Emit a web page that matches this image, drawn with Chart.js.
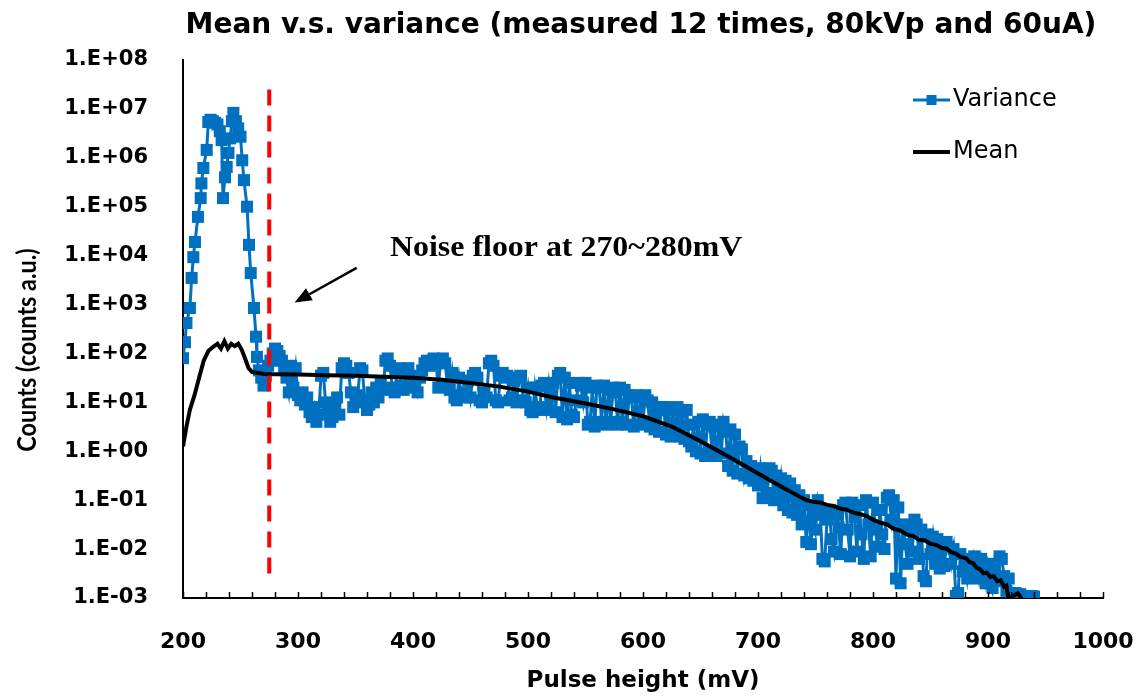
<!DOCTYPE html>
<html><head><meta charset="utf-8">
<script src="https://cdn.jsdelivr.net/npm/chart.js@4/dist/chart.umd.min.js"></script>
<style>html,body{margin:0;padding:0;background:#fff}#wrap{width:1145px;height:698px}</style>
</head><body><div id="wrap"><canvas id="c" width="1145" height="698"></canvas></div>
<script>
// ---------- texts ----------
const titleText = 'Mean v.s. variance (measured 12 times, 80kVp and 60uA)';
const xTitle = 'Pulse height (mV)';
const yTitle = 'Counts (counts a.u.)';
const noteText = 'Noise floor at 270~280mV';
const legendLabels = ['Variance', 'Mean'];

// ---------- axes ----------
const xMin = 200, xMax = 1000, xStep = 100, xMinorStep = 20;
const xTickLabels = ['200','300','400','500','600','700','800','900','1000'];
const yTickValues = [1e-3, 1e-2, 1e-1, 1e0, 1e1, 1e2, 1e3, 1e4, 1e5, 1e6, 1e7, 1e8];
const yTickLabels = ['1.E-03','1.E-02','1.E-01','1.E+00','1.E+01','1.E+02','1.E+03','1.E+04','1.E+05','1.E+06','1.E+07','1.E+08'];

// ---------- series: Variance ----------
const varianceX = [
200,201.7,203,206,207.5,209,210.4,213,215.4,216,217.7,220.6,222,224,226,228,230,232,233.6,234.8,236.5,238,239.5,241,242.5,243.8,246,248,250,251.5,253,255.7,257.4,258.9,261.7,263.5,264.3,266,268,270,272,274,
276,278,280,282,284,286,288,290,292,294,296,298,300,
302,304,306,308,310,312,314,316,318,320,322,324,326,328,330,332,334,336,338,340,342,344,346,348,350,
352,354,356,358,360,362,364,366,368,370,372,374,376,378,380,382,384,386,388,390,392,394,396,398,400,
402,404,406,408,410,412,414,416,418,420,422,424,426,428,430,432,434,436,438,440,442,444,446,448,450,
452,454,456,458,460,462,464,466,468,470,472,474,476,478,480,482,484,486,488,490,492,494,496,498,500,
502,504,506,508,510,512,514,516,518,520,522,524,526,528,530,532,534,536,538,540,542,544,546,548,550,
552,554,556,558,560,562,564,566,568,570,572,574,576,578,580,582,584,586,588,590,592,594,596,598,600,
602,604,606,608,610,612,614,616,618,620,622,624,626,628,630,632,634,636,638,640,642,644,646,648,650,
652,654,656,658,660,662,664,666,668,670,672,674,676,678,680,682,684,686,688,690,692,694,696,698,700,
702,704,706,708,710,712,714,716,718,720,722,724,726,728,730,732,734,736,738,740,742,744,746,748,750,
752,754,756,758,760,762,764,766,768,770,772,774,776,778,780,782,784,786,788,790,792,794,796,798,800,
802,804,806,808,810,812,814,816,818,820,822,824,826,828,830,832,834,836,838,840,842,844,846,848,850,
852,854,856,858,860,862,864,866,868,870,872,874,876,878,880,882,884,886,888,890,892,894,896,898,900,
902,904,906,908,910,912,914,916,918,920,922,924,926,928,930,932,934,936,938,940];
const varianceY = [
80,170,420,850,3500,9300,19000,62000,150000,300000,620000,1450000,5400000,6000000,5600000,5200000,4800000,3500000,2300000,150000,400000,650000,1260000,2500000,5600000,8300000,5600000,4000000,2700000,890000,350000,100000,16600,4400,850,220,85,45,32,22,35,56,
71,100,126,112,89,71,50,32,16,56,20,50,14,
11,16,9,12.6,6.3,5,8,4,5.6,35,40,10,7,4,5,9,12.6,5.6,50,63,56,40,16,8,10,
14,50,45,11,7,9,16,10,20,12.6,25,18,71,79,56,20,16,40,50,22,18,45,50,35,20,
25,16,32,45,63,71,56,71,79,63,20,71,79,63,22,18,40,12.6,11,32,14,16,12.6,28,12.6,
35,40,32,11,10,16,12.6,63,71,56,11,10,35,40,32,35,11,12.6,28,10,32,35,11,10,20,
7,6.3,20,8,7,22,25,8,22,7,25,6.3,35,40,5,32,4.5,25,5.6,5,11,25,22,10,25,
3.5,4,20,3.2,22,20,4,22,3.5,18,4,20,16,3.5,20,4,18,3.5,14,12.6,3.2,14,3.5,12.6,4,
14,11,3.2,10,2.8,8,2.5,7,8,2.2,8,2,7,2.2,8,2,6.3,1.8,7,1.6,1.25,3.5,1,4,0.9,
4.5,0.8,3.5,4,1,3.2,0.8,3.5,0.9,4,2.5,0.5,2.8,0.4,2.2,0.35,1.25,1.1,0.32,0.63,0.28,0.5,0.25,0.32,0.2,
0.45,0.11,0.4,0.14,0.45,0.4,0.1,0.32,0.11,0.28,0.079,0.25,0.063,0.22,0.056,0.16,0.05,0.126,0.032,0.1,0.014,0.079,0.0126,0.05,0.025,
0.1,0.063,0.0063,0.0056,0.04,0.056,0.016,0.0089,0.05,0.028,0.0079,0.079,0.089,0.025,0.0071,0.089,0.045,0.0089,0.079,0.02,0.0063,0.1,0.032,0.0071,0.089,
0.025,0.0112,0.063,0.02,0.01,0.112,0.126,0.04,0.1,0.0025,0.071,0.002,0.032,0.0126,0.005,0.025,0.0089,0.04,0.032,0.0063,0.025,0.0028,0.0022,0.02,0.0079,
0.018,0.005,0.016,0.004,0.0126,0.0045,0.014,0.0112,0.005,0.01,0.0011,0.00126,0.0079,0.0035,0.0063,0.0025,0.0056,0.0032,0.0071,0.0045,0.0025,0.0063,0.0035,0.002,0.005,
0.0032,0.0016,0.004,0.0022,0.0071,0.0063,0.0028,0.0014,0.0025,0.00126,0.0011,0.00126,0.0011,0.0012,0.0011,0.00107,0.0011,0.00107,0.0011,0.00107];

// ---------- series: Mean ----------
const meanX = [200,203,206,210,214,218,222,226,230,233,236,239,242,245,248,251,254,257,260,270,280,300,325,350,375,400,425,450,475,500,520,550,575,600,625,650,675,700,720,
742,748,754,760,766,772,777,783,790,795,800,806,812,818,824,830,835,840,845,850,855,860,864,868,872,876,881,884,887,890,893,896,899,902,905,908,911,914,916,918,922,926,930];
const meanY = [1.26,3.2,7.1,14,32,71,112,135,158,126,178,126,158,141,158,120,79,50,42,38,37.5,37,36,35,33.5,32,29,25,21,16.6,12.9,9.5,7.2,5.2,3.2,1.6,0.76,0.35,0.19,
0.1,0.093,0.09,0.08,0.076,0.067,0.064,0.056,0.051,0.047,0.04,0.035,0.032,0.026,0.024,0.0195,0.0185,0.0155,0.015,0.0128,0.0122,0.0105,0.0102,0.0086,0.0081,0.0069,0.0065,0.0054,0.0052,0.0042,0.0039,0.0032,0.0033,0.0027,0.0028,0.0022,0.0023,0.0017,0.0018,0.0009,0.0011,0.00125,0.0009];

// ---------- annotation anchors (data units) ----------
const noiseFloorX = 275, dashTop = 2.5e7, dashBottom = 0.003;
const arrowFrom = {x: 351, y: 5600}, arrowTo = {x: 297, y: 1100};
const noteAnchor = {x: 380, y: 1.0e4};

const plotFont = 'DejaVu Sans';

const overlay = {
  id: 'overlay',
  afterDatasetsDraw(chart) {
    const {ctx, chartArea: a, scales: {x, y}} = chart;
    ctx.save();
    // inward minor ticks on x axis
    ctx.strokeStyle = '#000'; ctx.lineWidth = 1.5;
    for (let v = xMin; v <= xMax; v += xMinorStep) {
      const px = Math.round(x.getPixelForValue(v)) + 0.5;
      ctx.beginPath(); ctx.moveTo(px, a.bottom); ctx.lineTo(px, a.bottom - 6); ctx.stroke();
    }
    // dashed noise-floor line
    ctx.strokeStyle = '#FF0000'; ctx.lineWidth = 4; ctx.setLineDash([16, 10]);
    const dx = x.getPixelForValue(noiseFloorX);
    ctx.beginPath(); ctx.moveTo(dx, y.getPixelForValue(dashTop)); ctx.lineTo(dx, y.getPixelForValue(dashBottom)); ctx.stroke();
    ctx.setLineDash([]);
    // arrow
    const x0 = x.getPixelForValue(arrowFrom.x), y0 = y.getPixelForValue(arrowFrom.y);
    const x1 = x.getPixelForValue(arrowTo.x), y1 = y.getPixelForValue(arrowTo.y);
    const ang = Math.atan2(y1 - y0, x1 - x0);
    const hl = 17, hw = 7;
    const bx = x1 - hl * Math.cos(ang), by = y1 - hl * Math.sin(ang);
    ctx.strokeStyle = '#000'; ctx.fillStyle = '#000'; ctx.lineWidth = 2.5;
    ctx.beginPath(); ctx.moveTo(x0, y0); ctx.lineTo(bx, by); ctx.stroke();
    ctx.beginPath(); ctx.moveTo(x1, y1);
    ctx.lineTo(bx + hw * Math.sin(ang), by - hw * Math.cos(ang));
    ctx.lineTo(bx - hw * Math.sin(ang), by + hw * Math.cos(ang));
    ctx.closePath(); ctx.fill();
    // annotation text
    ctx.font = 'bold 29px "Liberation Serif"';
    ctx.textAlign = 'left'; ctx.textBaseline = 'alphabetic';
    ctx.save();
    ctx.translate(x.getPixelForValue(noteAnchor.x), y.getPixelForValue(noteAnchor.y));
    ctx.scale(1.1, 1);
    ctx.fillText(noteText, 0, 0);
    ctx.restore();
    // legend
    const lx0 = a.right - 190, lx1 = a.right - 153, tx = a.right - 150;
    const ly = [a.top + 40, a.top + 92];
    ctx.font = '24px "' + plotFont + '"'; ctx.textBaseline = 'middle'; ctx.fillStyle = '#000';
    ctx.strokeStyle = '#0070C0'; ctx.lineWidth = 3;
    ctx.beginPath(); ctx.moveTo(lx0, ly[0]); ctx.lineTo(lx1, ly[0]); ctx.stroke();
    ctx.fillStyle = '#0070C0';
    ctx.fillRect((lx0 + lx1) / 2 - 5, ly[0] - 5, 10, 10);
    ctx.fillStyle = '#000';
    ctx.fillText(legendLabels[0], tx, ly[0]);
    ctx.strokeStyle = '#000'; ctx.lineWidth = 4;
    ctx.beginPath(); ctx.moveTo(lx0, ly[1]); ctx.lineTo(lx1, ly[1]); ctx.stroke();
    ctx.fillText(legendLabels[1], tx, ly[1]);
    // title
    ctx.font = 'bold 28px "' + plotFont + '"';
    ctx.textAlign = 'center'; ctx.textBaseline = 'alphabetic';
    ctx.fillText(titleText, 641, 33);
    // y axis title
    ctx.save();
    ctx.translate(28, 350);
    ctx.rotate(-Math.PI / 2);
    ctx.scale(0.9, 1);
    ctx.font = 'bold 26px Lato';
    ctx.textAlign = 'center'; ctx.textBaseline = 'middle';
    ctx.fillText(yTitle, 0, 0);
    ctx.restore();
    ctx.restore();
  }
};

new Chart(document.getElementById('c'), {
  type: 'line',
  data: {
    datasets: [
      {
        label: legendLabels[1],
        data: meanX.map((v, i) => ({x: v, y: meanY[i]})),
        borderColor: '#000', backgroundColor: '#000', borderWidth: 4,
        pointRadius: 0, tension: 0, order: 1
      },
      {
        label: legendLabels[0],
        data: varianceX.map((v, i) => ({x: v, y: varianceY[i]})),
        borderColor: '#0070C0', backgroundColor: '#0070C0', borderWidth: 3,
        pointStyle: 'rect', pointRadius: 8.5, pointBorderWidth: 0,
        pointBackgroundColor: '#0070C0', tension: 0, order: 2
      }
    ]
  },
  options: {
    responsive: false, animation: false, devicePixelRatio: 1,
    layout: {padding: {top: 60, right: 42, left: 0, bottom: 0}},
    plugins: {legend: {display: false}, tooltip: {enabled: false}, title: {display: false}},
    scales: {
      x: {
        type: 'linear', min: xMin, max: xMax,
        ticks: {stepSize: xStep, color: '#000', padding: 31, font: {family: plotFont, size: 22, weight: 'bold'}, maxRotation: 0,
          callback: (v, i) => xTickLabels[i]},
        grid: {display: false, drawTicks: false},
        border: {display: true, color: '#000', width: 2},
        title: {display: true, text: xTitle, color: '#000', font: {family: plotFont, size: 23, weight: 'bold'}, padding: {top: 2, bottom: 3}},
        afterFit: (s) => { s.height = 100; s.paddingLeft = 0; s.paddingRight = 0; }
      },
      y: {
        type: 'logarithmic', min: yTickValues[0], max: yTickValues[yTickValues.length - 1],
        afterBuildTicks: (s) => { s.ticks = yTickValues.map(v => ({value: v})); },
        ticks: {color: '#000', padding: 35, font: {family: plotFont, size: 21, weight: 'bold'},
          callback: (v, i) => yTickLabels[i]},
        grid: {display: false, drawTicks: false},
        border: {display: true, color: '#000', width: 2},
        afterFit: (s) => { s.width = 183; s.paddingTop = 0; s.paddingBottom = 0; }
      }
    }
  },
  plugins: [overlay]
});
</script>
</body></html>
